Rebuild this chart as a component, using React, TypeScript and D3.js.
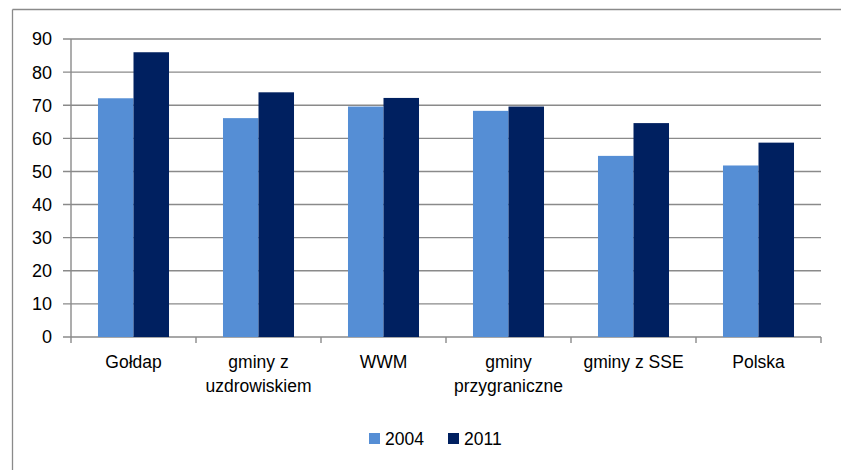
import React from "react";
import * as d3 from "d3";

const categories: string[][] = [
  ["Gołdap"],
  ["gminy z", "uzdrowiskiem"],
  ["WWM"],
  ["gminy", "przygraniczne"],
  ["gminy z SSE"],
  ["Polska"],
];
const seriesNames = ["2004", "2011"];
const values2004 = [72.1, 66.1, 69.6, 68.3, 54.7, 51.8];
const values2011 = [86.0, 73.9, 72.2, 69.6, 64.6, 58.7];
const yTicks = [0, 10, 20, 30, 40, 50, 60, 70, 80, 90];
const colors = ["#558ED5", "#002060"];

const W = 841;
const H = 470;
const left = 71;
const right = 821;
const top = 39;
const bottom = 337;
const font = "'Liberation Sans', Arial, sans-serif";
const grid = "#8a8a8a";

export default function App() {
  const keys = categories.map((_, i) => String(i));
  const x = d3.scaleBand<string>().domain(keys).range([left, right]).paddingInner(0).paddingOuter(0);
  const inner = d3.scaleBand<string>().domain(seriesNames).range([0, x.bandwidth()]).paddingInner(0).paddingOuter(0.76);
  const y = d3.scaleLinear().domain([0, 90]).range([bottom, top]);
  const series = [values2004, values2011];

  return (
    <svg width={W} height={H} style={{ position: "absolute", left: 0, top: 0, background: "#fff" }} fontFamily={font}>
      <rect x={0} y={0} width={W} height={H} fill="#fff" />
      <line x1={12.5} x2={12.5} y1={9.5} y2={H} stroke={grid} strokeWidth={1.3} />
      <line x1={12.5} x2={W} y1={9.5} y2={9.5} stroke={grid} strokeWidth={1.3} />
      {yTicks.map((t) => (
        <g key={t}>
          <line x1={63} x2={right} y1={y(t)} y2={y(t)} stroke={grid} strokeWidth={1.4} />
          <text x={52} y={y(t)} dy="0.36em" textAnchor="end" fontSize={18} fill="#000">
            {t}
          </text>
        </g>
      ))}
      <line x1={left} x2={left} y1={top} y2={bottom + 6} stroke={grid} strokeWidth={1.4} />
      {keys.map((k) => (
        <line key={"t" + k} x1={(x(k) as number) + x.bandwidth()} x2={(x(k) as number) + x.bandwidth()} y1={bottom} y2={bottom + 6} stroke={grid} strokeWidth={1.4} />
      ))}
      {series.map((vals, si) =>
        vals.map((v, i) => (
          <rect
            key={si + "-" + i}
            x={(x(String(i)) as number) + (inner(seriesNames[si]) as number)}
            y={y(v)}
            width={inner.bandwidth()}
            height={bottom - y(v)}
            fill={colors[si]}
          />
        ))
      )}
      {categories.map((lines, i) => (
        <text key={"c" + i} textAnchor="middle" fontSize={17.5} fill="#000">
          {lines.map((ln, li) => (
            <tspan key={li} x={(x(String(i)) as number) + x.bandwidth() / 2} y={368 + li * 24}>
              {ln}
            </tspan>
          ))}
        </text>
      ))}
      {seriesNames.map((s, si) => {
        const lx = [369, 448][si];
        return (
          <g key={s}>
            <rect x={lx} y={433} width={11} height={11} fill={colors[si]} />
            <text x={lx + 16} y={445} fontSize={17.5} fill="#000">
              {s}
            </text>
          </g>
        );
      })}
    </svg>
  );
}
